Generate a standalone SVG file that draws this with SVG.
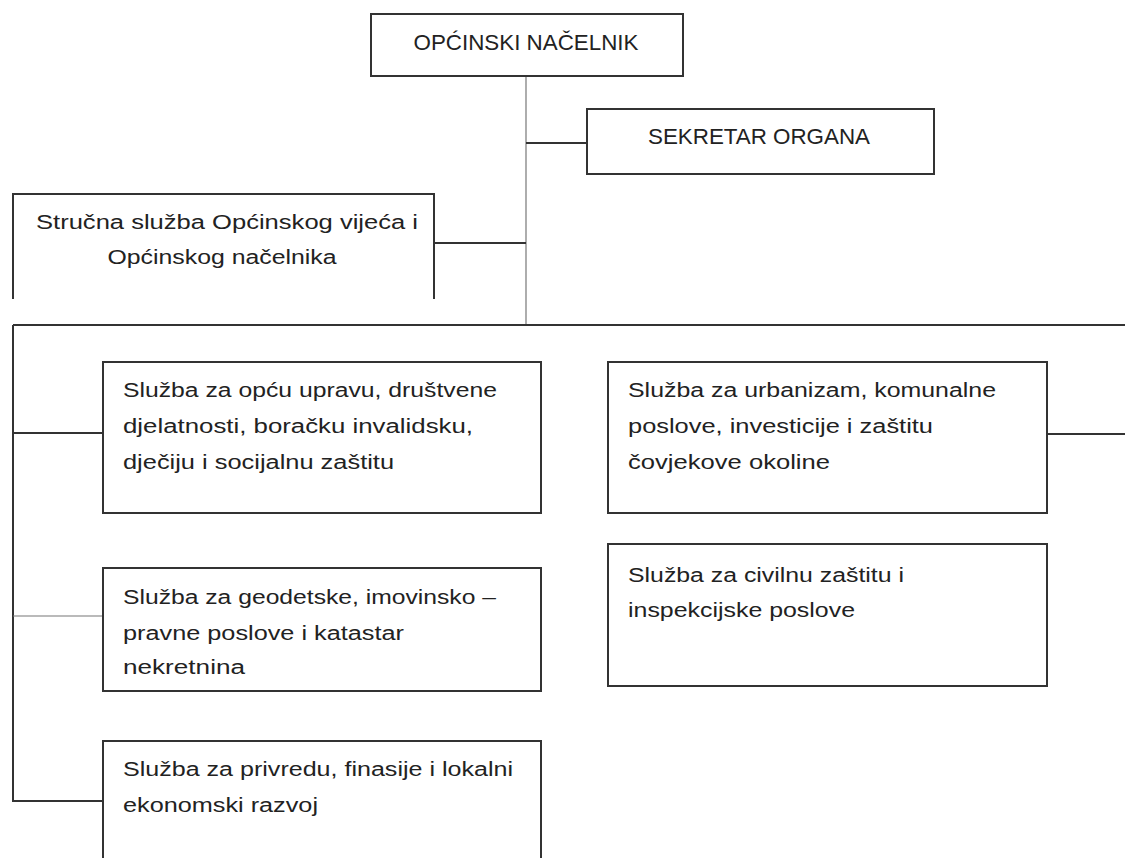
<svg xmlns="http://www.w3.org/2000/svg" width="1125" height="858" viewBox="0 0 1125 858">
<style>
.box{fill:#fff;stroke:#333;stroke-width:2}
.ln{fill:none;stroke:#333;stroke-width:2}
.thin{fill:none;stroke:#777;stroke-width:1.2}
text{font-family:"Liberation Sans",Arial,sans-serif;font-size:20px;fill:#222}
.c{text-anchor:middle}
.h{font-size:22px}
</style>
<rect width="1125" height="858" fill="#fff"/>
<g id="connectors">
<line class="thin" x1="526" y1="76" x2="526" y2="325"/>
<line class="ln" x1="526" y1="143" x2="587" y2="143"/>
<line class="ln" x1="434" y1="243" x2="526" y2="243"/>
<line class="ln" x1="13" y1="325" x2="1125" y2="325"/>
<polyline class="ln" points="13,325 13,801 103,801"/>
<line class="ln" x1="13" y1="433" x2="103" y2="433"/>
<line class="thin" x1="13" y1="616" x2="103" y2="616"/>
<line class="ln" x1="1047" y1="434" x2="1125" y2="434"/>
</g>
<g id="opcinski-nacelnik">
<rect class="box" x="371" y="14" width="312" height="62"/>
<text class="c h" x="526" y="50" textLength="225" lengthAdjust="spacingAndGlyphs">OPĆINSKI NAČELNIK</text>
</g>
<g id="sekretar-organa">
<rect class="box" x="587" y="109" width="347" height="65"/>
<text class="c h" x="759" y="144" textLength="222" lengthAdjust="spacingAndGlyphs">SEKRETAR ORGANA</text>
</g>
<g id="strucna-sluzba">
<path class="ln" d="M13,299 V194 H434 V299"/>
<text class="c" x="227" y="229" textLength="382" lengthAdjust="spacingAndGlyphs">Stručna služba Općinskog vijeća i</text>
<text class="c" x="222" y="264" textLength="229" lengthAdjust="spacingAndGlyphs">Općinskog načelnika</text>
</g>
<g id="sluzba-opca-uprava">
<rect class="box" x="103" y="362" width="438" height="151"/>
<text x="123" y="397" textLength="374" lengthAdjust="spacingAndGlyphs">Služba za opću upravu, društvene</text>
<text x="123" y="433" textLength="350" lengthAdjust="spacingAndGlyphs">djelatnosti, boračku invalidsku,</text>
<text x="123" y="469" textLength="271" lengthAdjust="spacingAndGlyphs">dječiju i socijalnu zaštitu</text>
</g>
<g id="sluzba-urbanizam">
<rect class="box" x="608" y="362" width="439" height="151"/>
<text x="628" y="397" textLength="368" lengthAdjust="spacingAndGlyphs">Služba za urbanizam, komunalne</text>
<text x="628" y="433" textLength="305" lengthAdjust="spacingAndGlyphs">poslove, investicije i zaštitu</text>
<text x="628" y="469" textLength="202" lengthAdjust="spacingAndGlyphs">čovjekove okoline</text>
</g>
<g id="sluzba-geodetske">
<rect class="box" x="103" y="568" width="438" height="123"/>
<text x="123" y="604" textLength="373" lengthAdjust="spacingAndGlyphs">Služba za geodetske, imovinsko –</text>
<text x="123" y="640" textLength="281" lengthAdjust="spacingAndGlyphs">pravne poslove i katastar</text>
<text x="123" y="674" textLength="122" lengthAdjust="spacingAndGlyphs">nekretnina</text>
</g>
<g id="sluzba-civilna-zastita">
<rect class="box" x="608" y="544" width="439" height="142"/>
<text x="628" y="582" textLength="276" lengthAdjust="spacingAndGlyphs">Služba za civilnu zaštitu i</text>
<text x="628" y="617" textLength="227" lengthAdjust="spacingAndGlyphs">inspekcijske poslove</text>
</g>
<g id="sluzba-privreda">
<rect class="box" x="103" y="741" width="438" height="140"/>
<text x="123" y="776" textLength="390" lengthAdjust="spacingAndGlyphs">Služba za privredu, finasije i lokalni</text>
<text x="123" y="812" textLength="195" lengthAdjust="spacingAndGlyphs">ekonomski razvoj</text>
</g>
</svg>
